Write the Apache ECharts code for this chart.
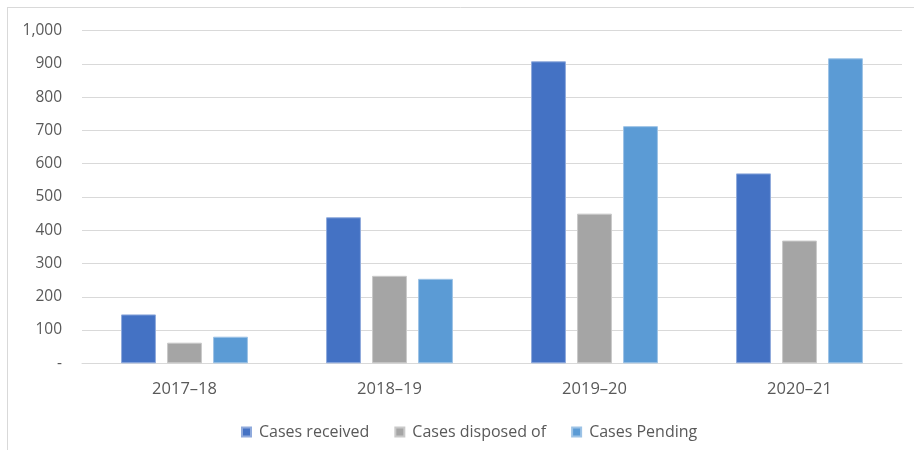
<!DOCTYPE html>
<html>
<head>
<meta charset="utf-8">
<script src="https://cdn.jsdelivr.net/npm/echarts@6/dist/echarts.min.js"></script>
<style>
html,body{margin:0;padding:0;background:#fff;}
#c{width:914px;height:450px;}
</style>
</head>
<body>
<div id="c"></div>
<script>
const categories = ['2017\u201318', '2018\u201319', '2019\u201320', '2020\u201321'];
const casesReceived = [147, 439, 908, 571];
const casesDisposed = [62, 263, 450, 369];
const casesPending = [80, 254, 713, 917];
const seriesNames = ['Cases received', 'Cases disposed of', 'Cases Pending'];
const yTicks = [0, 100, 200, 300, 400, 500, 600, 700, 800, 900, 1000];

const font = '"Open Sans", "Noto Sans", sans-serif';
const chart = echarts.init(document.getElementById('c'));
const barStyle = (color, border) => ({
  color: color,
  borderColor: border,
  borderWidth: 1
});
chart.setOption({
  animation: false,
  textStyle: { fontFamily: font, color: '#595959' },
  graphic: [
    { type: 'line', shape: { x1: 7, y1: 7.5, x2: 914, y2: 7.5 }, style: { stroke: '#d9d9d9', lineWidth: 1 } },
    { type: 'line', shape: { x1: 7.5, y1: 7, x2: 7.5, y2: 450 }, style: { stroke: '#d9d9d9', lineWidth: 1 } }
  ],
  grid: { left: 82, right: 12, top: 30.7, bottom: 86.7, containLabel: false },
  legend: {
    top: 419,
    left: 236,
    itemWidth: 9,
    itemHeight: 9,
    itemGap: 25,
    icon: 'rect',
    textStyle: { fontFamily: font, fontSize: 16, color: '#595959', padding: [0, 0, 0, 3] },
    data: seriesNames
  },
  xAxis: {
    type: 'category',
    data: categories,
    axisLine: { lineStyle: { color: '#d9d9d9' } },
    axisTick: { show: false },
    axisLabel: { fontFamily: font, fontSize: 16.5, color: '#595959', margin: 17 }
  },
  yAxis: {
    type: 'value',
    min: yTicks[0],
    max: yTicks[yTicks.length - 1],
    interval: 100,
    axisLine: { show: false },
    axisTick: { show: false },
    splitLine: { lineStyle: { color: '#d9d9d9', width: 1 } },
    axisLabel: {
      fontFamily: font, fontSize: 15.5, color: '#595959', margin: 20,
      formatter: v => v === 0 ? '-' : v.toLocaleString('en-US')
    }
  },
  series: [
    { name: seriesNames[0], type: 'bar', data: casesReceived, barWidth: '17%', barGap: '32%', barCategoryGap: '38%', itemStyle: barStyle('#4472C4', '#8faadc') },
    { name: seriesNames[1], type: 'bar', data: casesDisposed, barWidth: '17%', barGap: '32%', itemStyle: barStyle('#A5A5A5', '#c9c9c9') },
    { name: seriesNames[2], type: 'bar', data: casesPending, barWidth: '17%', barGap: '32%', itemStyle: barStyle('#5B9BD5', '#9dc3e6') }
  ]
});
</script>
</body>
</html>
